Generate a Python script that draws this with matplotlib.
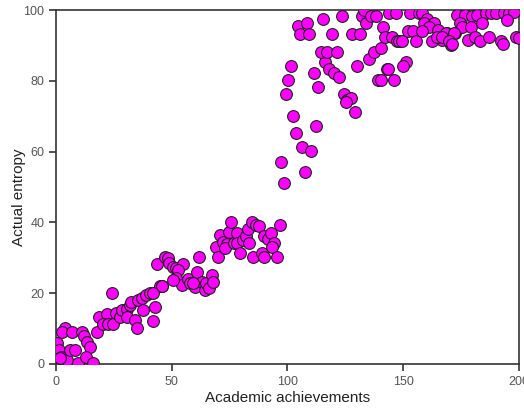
import matplotlib
matplotlib.use("Agg")
import matplotlib.pyplot as plt

academic = [
    0.4, 1.3, 2.0, 4.7, 1.7, 3.9, 2.6, 6.9, 11.0, 12.0, 13.5, 14.7, 6.0, 8.2, 9.5, 13.0, 16.0,
    17.8, 18.7, 22.0, 20.3, 22.5, 24.7, 24.0, 26.0, 27.6, 28.4, 30.5, 30.5, 32.0, 34.0, 35.0,
    32.6, 35.5, 37.0, 37.6, 39.0, 40.5, 42.7, 42.0, 44.8, 46.0, 41.8,
    43.5, 47.0, 48.3, 49.0, 50.4, 52.0, 54.7, 52.5, 61.6, 51.7, 54.3, 57.0, 57.8, 60.8, 60.0,
    63.0, 64.2, 65.0, 45.7, 50.5, 66.0, 67.2, 67.7, 59.0,
    69.0, 70.0, 71.0, 72.0, 73.7, 73.0, 74.6, 75.8, 77.0, 78.0, 78.4, 79.7, 80.6, 81.9, 82.8,
    83.6, 84.9, 86.6, 87.9, 85.3, 88.8, 89.7, 90.0, 91.4, 92.7, 94.4, 93.5, 95.7, 96.6,
    98.7, 97.4, 107.8, 106.5, 110.3, 103.9, 112.5, 102.6, 99.6, 100.4, 101.7, 113.4, 111.6,
    124.6, 125.9, 127.6, 129.3, 125.4, 116.4, 118.1, 120.3, 122.4, 114.7, 117.2, 121.6,
    130.2, 135.3, 137.5, 140.5, 139.2, 143.0, 146.0,
    104.7, 108.6, 105.6, 109.5, 115.5, 119.4, 123.7, 128.0, 131.5, 132.3, 134.0, 133.2,
    136.2, 138.4, 141.4, 142.2, 145.3, 147.4, 144.0, 147.0,
    153.0, 157.0, 158.3, 160.3, 159.0, 163.4, 161.2, 148.3, 149.5, 152.2, 154.3, 155.6,
    158.2, 162.5, 165.0, 166.8, 164.5, 169.0, 170.7, 172.4, 151.3, 150.0, 143.5, 140.5,
    173.3, 176.7, 179.7, 182.0, 185.8, 188.0, 190.0, 193.5, 195.7, 197.8, 174.6, 175.4,
    179.3, 184.0, 194.8, 168.5, 171.9, 166.8, 169.8, 171.0, 178.0, 181.0, 183.2, 187.0,
    192.2, 193.0, 198.7, 200.0,
]
entropy = [
    5.9, 4.0, 2.0, 1.1, 1.7, 10.2, 9.0, 9.0, 9.0, 8.0, 6.2, 4.8, 4.0, 4.0, 0.3, 2.0, 0.3,
    9.0, 13.3, 14.0, 11.3, 11.3, 11.3, 20.0, 14.4, 13.3, 15.3, 15.5, 13.3, 16.7, 12.4, 10.2,
    17.5, 18.0, 18.6, 15.3, 19.5, 20.0, 16.1, 12.1, 22.0, 22.0, 20.0,
    28.2, 30.2, 29.9, 28.5, 27.4, 27.0, 28.2, 26.5, 30.2, 24.3, 22.3, 24.0, 22.9, 26.0, 21.8,
    23.2, 20.9, 22.9, 22.0, 23.7, 21.5, 25.1, 23.2, 23.0,
    33.0, 30.2, 36.4, 34.5, 33.9, 32.8, 37.3, 40.1, 34.2, 37.0, 34.2, 31.4, 35.0, 36.2, 38.1,
    34.2, 40.1, 39.3, 39.0, 30.2, 31.4, 30.2, 36.2, 35.3, 37.0, 34.2, 33.0, 30.2, 39.3,
    51.1, 57.0, 54.2, 61.3, 60.2, 65.2, 67.2, 70.0, 76.2, 80.2, 84.2, 78.2, 82.2,
    76.3, 74.6, 75.1, 71.2, 74.0, 85.3, 83.3, 82.2, 81.0, 88.1, 88.1, 88.1,
    84.2, 86.2, 88.1, 89.3, 80.2, 83.3, 80.2,
    95.5, 96.3, 93.2, 93.2, 97.5, 93.2, 98.3, 93.2, 93.2, 98.3, 96.3, 100.0,
    98.3, 98.3, 95.2, 92.4, 92.4, 91.2, 99.2, 99.2,
    99.2, 99.2, 99.2, 97.5, 96.3, 96.3, 95.2, 91.2, 91.2, 94.1, 94.1, 91.2,
    94.1, 91.2, 94.4, 91.5, 92.4, 93.5, 90.1, 93.5, 85.3, 84.2, 83.3, 80.2,
    98.6, 98.6, 98.3, 98.6, 99.2, 99.2, 99.2, 99.2, 99.2, 99.4, 96.3, 95.2,
    95.2, 96.3, 97.2, 93.5, 93.5, 92.4, 91.2, 90.4, 91.5, 92.4, 91.2, 92.4,
    91.2, 90.4, 92.4, 92.0,
]

x_ticks = [0, 50, 100, 150, 200]
y_ticks = [0, 20, 40, 60, 80, 100]

plt.rcParams['font.family'] = ['Liberation Sans', 'DejaVu Sans']

fig = plt.figure(figsize=(5.24, 4.08), dpi=100)
ax = fig.add_axes([0.107, 0.108, 0.883, 0.867])
ax.scatter(academic, entropy, s=72, c='#FF00FF', edgecolors='#222222',
           linewidths=0.8, zorder=3)
ax.set_xlim(0, 200)
ax.set_ylim(0, 100)
ax.set_xticks(x_ticks)
ax.set_yticks(y_ticks)
ax.tick_params(direction='out', length=5, width=1.2, colors='#333333',
               labelsize=9, labelcolor='#555555')
for sp in ax.spines.values():
    sp.set_color('#333333')
    sp.set_linewidth(1.2)
ax.set_xlabel('Academic achievements', fontsize=11, color='#222222', labelpad=2)
ax.set_ylabel('Actual entropy', fontsize=11, color='#222222')
ax.yaxis.set_label_coords(-0.066, 0.47)
fig.savefig('out.png', dpi=100)
